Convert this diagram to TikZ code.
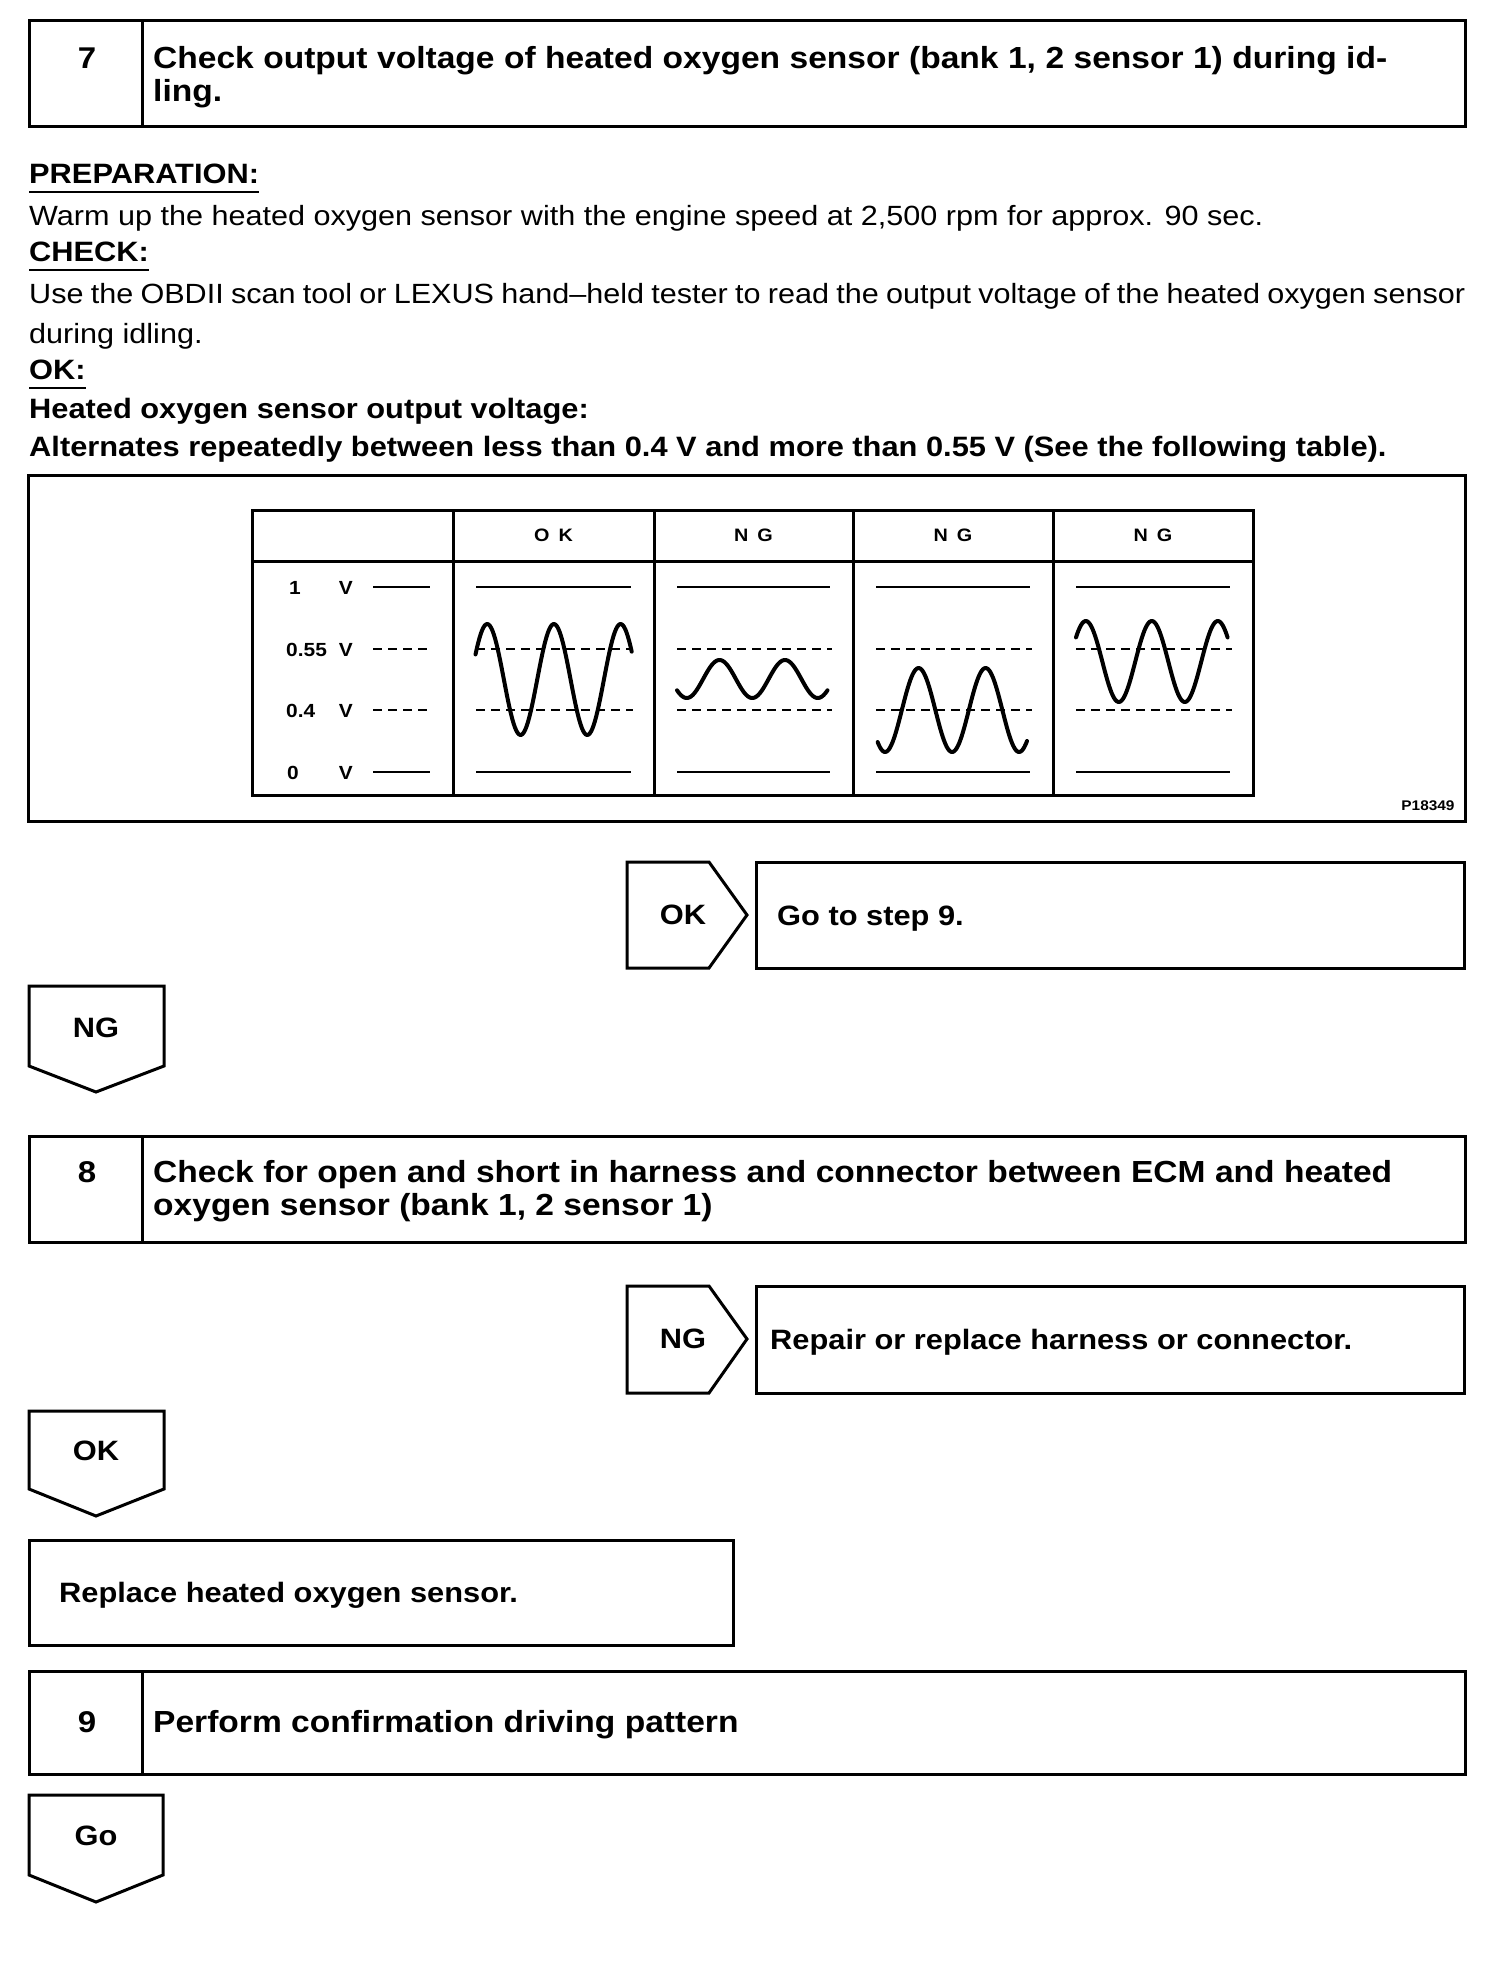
\documentclass[tikz,border=0pt]{standalone}
\usepackage{fontspec}
\setmainfont{Liberation Sans}[FakeStretch=1.1]
\begin{document}
\begin{tikzpicture}[x=1pt,y=-1pt,
  frame/.style={line width=3pt, line join=miter},
  uline/.style={line width=2.5pt},
  lvl/.style={line width=2.8pt},
  lvldash/.style={line width=2.8pt, dash pattern=on 9pt off 6pt},
  wave/.style={line width=4pt, line join=round, line cap=round},
  body/.style={font=\fontsize{27.8}{34}\selectfont, inner sep=0pt, anchor=base west},
  bbody/.style={font=\bfseries\fontsize{28}{34}\selectfont, inner sep=0pt, anchor=base west},
  ttl/.style={font=\bfseries\fontsize{30.5}{34}\selectfont, inner sep=0pt, anchor=base west},
  ctext/.style={font=\bfseries\fontsize{28}{34}\selectfont, inner sep=0pt},
  num/.style={font=\bfseries\fontsize{30}{34}\selectfont, inner sep=0pt},
  hdr/.style={font=\bfseries\fontsize{18}{20}\selectfont, inner sep=0pt},
  lbl/.style={font=\bfseries\fontsize{19}{22}\selectfont, inner sep=0pt},
]
\fill[white] (0,0) rectangle (1504,1968);
\useasboundingbox (0,0) rectangle (1504,1968);

% ---------- step 7 ----------
\draw[frame] (29,20) rectangle (1465,126);
\draw[frame] (142,20) -- (142,126);
\node[num] (s7num) at (87,58) {7};
\node[ttl] (s7t1) at (153,68) {\makebox[1234pt][s]{Check output voltage of heated oxygen sensor (bank 1, 2 sensor 1) during id-}};
\node[ttl] (s7t2) at (153,101) {ling.};

% ---------- text ----------
\node[bbody] (prep) at (29,183) {PREPARATION:};
\draw[uline] ([yshift=-9pt]prep.base west) -- ([yshift=-9pt]prep.base east);
\node[body] (warm) at (29,225) {Warm up the heated oxygen sensor with the engine speed at 2,500 rpm for approx. 90 sec.};
\node[bbody] (chk) at (29,261) {CHECK:};
\draw[uline] ([yshift=-9pt]chk.base west) -- ([yshift=-9pt]chk.base east);
\node[body] (use1) at (29,303) {\makebox[1436pt][s]{Use the OBDII scan tool or LEXUS hand–held tester to read the output voltage of the heated oxygen sensor}};
\node[body] (use2) at (29,343) {during idling.};
\node[bbody] (okh) at (29,379) {OK:};
\draw[uline] ([yshift=-9pt]okh.base west) -- ([yshift=-9pt]okh.base east);
\node[bbody] (hos) at (29,418) {Heated oxygen sensor output voltage:};
\node[bbody] (alt) at (29,456) {Alternates repeatedly between less than 0.4 V and more than 0.55 V (See the following table).};

% ---------- figure ----------
\draw[frame] (28,475) rectangle (1465,821);
\draw[frame] (252,510) rectangle (1253,795);
\foreach \cx in {453,654,853,1053} \draw[frame] (\cx,510) -- (\cx,795);
\draw[frame] (252,561) -- (1253,561);

\node[hdr] (hok) at (553.5,535) {O\hspace{9pt}K};
\node[hdr] (hng1) at (753.5,535) {N\hspace{9pt}G};
\node[hdr] (hng2) at (953,535) {N\hspace{9pt}G};
\node[hdr] (hng3) at (1153,535) {N\hspace{9pt}G};

% left scale labels
\node[lbl, anchor=base west] (l1n) at (289,594) {1};
\node[lbl, anchor=base east] (l1v) at (353,594) {V};
\node[lbl, anchor=base west] (l2n) at (286,656) {0.55};
\node[lbl, anchor=base east] (l2v) at (353,656) {V};
\node[lbl, anchor=base west] (l3n) at (286,717) {0.4};
\node[lbl, anchor=base east] (l3v) at (353,717) {V};
\node[lbl, anchor=base west] (l4n) at (287,779) {0};
\node[lbl, anchor=base east] (l4v) at (353,779) {V};
\draw[lvl] (373,587) -- (430,587);
\draw[lvldash] (373,649) -- (432,649);
\draw[lvldash] (373,710) -- (432,710);
\draw[lvl] (373,772) -- (430,772);

% level lines in each column
\foreach \L/\R in {453/654, 654/853, 853/1053, 1053/1253} {
  \draw[lvl] (\L+23,587) -- (\R-23,587);
  \draw[lvldash] (\L+23,649) -- (\R-21,649);
  \draw[lvldash] (\L+23,710) -- (\R-21,710);
  \draw[lvl] (\L+23,772) -- (\R-23,772);
}

% waves
\draw[wave] plot[domain=0:156.2, samples=120] ({475.5+\x}, {679.5-55.5*cos((\x-11.7)*5.397)});
\draw[wave] plot[domain=0:150.5, samples=120] ({677+\x}, {679-19*cos((\x-42.5)*5.496)});
\draw[wave] plot[domain=0:149.4, samples=120] ({877.6+\x}, {710-42*cos((\x-41)*5.373)});
\draw[wave] plot[domain=0:151.6, samples=120] ({1076+\x}, {661.5-40.5*cos((\x-9.8)*5.455)});

\node[font=\bfseries\fontsize{14}{16}\selectfont, inner sep=0pt] (pnum) at (1428,806) {P18349};

% ---------- OK branch after step 7 ----------
\draw[frame] (627,862) -- (709,862) -- (747,915) -- (709,968) -- (627,968) -- cycle;
\node[ctext] (okr) at (683,915) {OK};
\draw[frame] (756,862) rectangle (1464,968);
\node[bbody] (goto9) at (777,925) {Go to step 9.};

% NG down
\draw[frame] (29,986) -- (164,986) -- (164,1066) -- (96,1092) -- (29,1066) -- cycle;
\node[ctext] (ngd) at (96,1028) {NG};

% ---------- step 8 ----------
\draw[frame] (29,1136) rectangle (1465,1242);
\draw[frame] (142,1136) -- (142,1242);
\node[num] (s8num) at (87,1172) {8};
\node[ttl] (s8t1) at (153,1182) {\makebox[1239pt][s]{Check for open and short in harness and connector between ECM and heated}};
\node[ttl] (s8t2) at (153,1215) {oxygen sensor (bank 1, 2 sensor 1)};

\draw[frame] (627,1286) -- (709,1286) -- (747,1339) -- (709,1393) -- (627,1393) -- cycle;
\node[ctext] (ngr) at (683,1339) {NG};
\draw[frame] (756,1286) rectangle (1464,1393);
\node[bbody] (repair) at (770,1349) {Repair or replace harness or connector.};

\draw[frame] (29,1411) -- (164,1411) -- (164,1489) -- (96,1516) -- (29,1489) -- cycle;
\node[ctext] (okd) at (96,1451) {OK};

\draw[frame] (29,1540) rectangle (733,1645);
\node[bbody] (replace) at (59,1602) {Replace heated oxygen sensor.};

% ---------- step 9 ----------
\draw[frame] (29,1671) rectangle (1465,1774);
\draw[frame] (142,1671) -- (142,1774);
\node[num] (s9num) at (87,1722) {9};
\node[ttl] (s9t) at (153,1732) {Perform confirmation driving pattern};

\draw[frame] (29,1795) -- (163,1795) -- (163,1875) -- (96,1902) -- (29,1875) -- cycle;
\node[ctext] (god) at (96,1836) {Go};
\end{tikzpicture}
\end{document}
